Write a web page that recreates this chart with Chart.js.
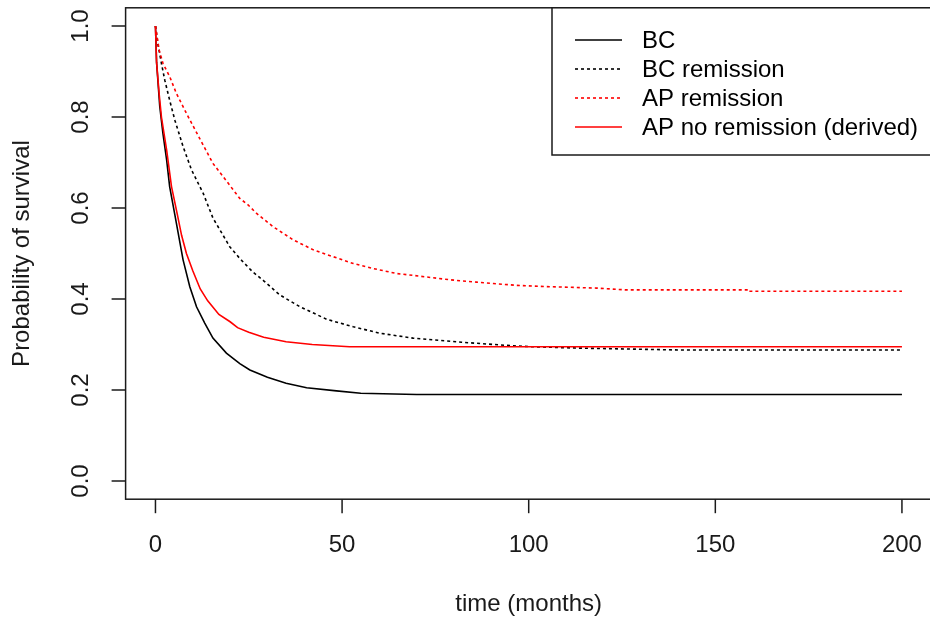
<!DOCTYPE html>
<html>
<head>
<meta charset="utf-8">
<script src="https://cdn.jsdelivr.net/npm/chart.js@4/dist/chart.umd.min.js"></script>
<style>
  html, body { margin: 0; padding: 0; background: #fff; overflow: hidden; }
  #wrap { position: relative; width: 940px; height: 623px; }
</style>
</head>
<body>
<div id="wrap"><canvas id="c" width="940" height="623"></canvas></div>
<script>
// Survival curves (time in months, probability of survival)
const bcTime = [0, 0.3, 1.15, 2, 3, 3.8, 5.2, 7.4, 9.2, 11, 13.2, 15.4, 19, 22.6, 25.3, 30, 35, 40.5, 48.5, 55, 70, 200];
const bcSurv = [1.0, 0.92, 0.823, 0.764, 0.705, 0.647, 0.585, 0.486, 0.427, 0.383, 0.347, 0.314, 0.281, 0.258, 0.244, 0.228, 0.215, 0.205, 0.198, 0.193, 0.19, 0.19];

const bcRemTime = [0, 0.7, 1.6, 2.5, 3.8, 5.2, 7.4, 9.65, 12.8, 15.4, 19.9, 22.6, 26, 29, 33.3, 38.7, 46, 53, 60, 69, 75, 82, 89, 96, 101, 114, 140, 200];
const bcRemSurv = [1.0, 0.958, 0.918, 0.881, 0.837, 0.793, 0.735, 0.684, 0.632, 0.578, 0.515, 0.489, 0.46, 0.44, 0.409, 0.383, 0.355, 0.339, 0.325, 0.314, 0.31, 0.305, 0.301, 0.297, 0.295, 0.292, 0.288, 0.288];

const apRemTime = [0, 1, 2, 3.8, 5.6, 8.3, 11.9, 15.4, 19.9, 22.6, 24.8, 27.1, 31.5, 36.9, 42.3, 47.6, 53, 58.3, 64.6, 71, 77, 81.6, 86, 90.5, 96.8, 105.7, 118.2, 126, 159, 159, 200];
const apRemSurv = [1.0, 0.947, 0.918, 0.889, 0.852, 0.808, 0.752, 0.698, 0.65, 0.621, 0.607, 0.588, 0.559, 0.53, 0.508, 0.493, 0.478, 0.467, 0.456, 0.45, 0.444, 0.44, 0.437, 0.434, 0.43, 0.427, 0.424, 0.42, 0.42, 0.417, 0.417];

const apNoRemTime = [0, 0.3, 1, 1.6, 3, 4.3, 5.8, 7, 8.3, 10, 12, 14, 17, 20, 22, 25, 29, 35, 42, 52, 200];
const apNoRemSurv = [1.0, 0.92, 0.85, 0.8, 0.727, 0.647, 0.588, 0.54, 0.5, 0.462, 0.422, 0.396, 0.366, 0.35, 0.337, 0.327, 0.316, 0.306, 0.3, 0.295, 0.295];

const seriesNames = ["BC", "BC remission", "AP remission", "AP no remission (derived)"];
const xTicks = [0, 50, 100, 150, 200];
const yTicks = [0.0, 0.2, 0.4, 0.6, 0.8, 1.0];
const xTitle = "time (months)";
const yTitle = "Probability of survival";

const FONT = "24px 'Liberation Sans', Arial, sans-serif";
const DOT = [3, 3];

function pts(t, s) { return t.map((x, i) => ({ x: x, y: s[i] })); }

const styles = [
  { color: "#000000", dash: [] },
  { color: "#000000", dash: DOT },
  { color: "#ff0000", dash: DOT },
  { color: "#ff0000", dash: [] }
];

const dataSets = [
  pts(bcTime, bcSurv),
  pts(bcRemTime, bcRemSurv),
  pts(apRemTime, apRemSurv),
  pts(apNoRemTime, apNoRemSurv)
];

// base-graphics style frame, ticks, labels and legend
const framePlugin = {
  id: "frame",
  afterDraw(chart) {
    const ctx = chart.ctx;
    const a = chart.chartArea;
    const xs = chart.scales.x, ys = chart.scales.y;
    ctx.save();
    ctx.strokeStyle = "#1a1a1a";
    ctx.lineWidth = 1.5;
    ctx.setLineDash([]);
    ctx.strokeRect(a.left, a.top, a.right - a.left, a.bottom - a.top);

    ctx.fillStyle = "#1a1a1a";
    ctx.font = FONT;
    // x axis ticks
    ctx.textAlign = "center";
    ctx.textBaseline = "middle";
    xTicks.forEach(v => {
      const px = xs.getPixelForValue(v);
      ctx.beginPath();
      ctx.moveTo(px, a.bottom);
      ctx.lineTo(px, a.bottom + 14);
      ctx.stroke();
      ctx.fillText(String(v), px, 545);
    });
    // y axis ticks (rotated labels)
    yTicks.forEach(v => {
      const py = ys.getPixelForValue(v);
      ctx.beginPath();
      ctx.moveTo(a.left, py);
      ctx.lineTo(a.left - 14, py);
      ctx.stroke();
      ctx.save();
      ctx.translate(81, py);
      ctx.rotate(-Math.PI / 2);
      ctx.fillText(v.toFixed(1), 0, 0);
      ctx.restore();
    });
    // axis titles
    ctx.fillText(xTitle, (a.left + a.right) / 2, 604);
    ctx.save();
    ctx.translate(22, (a.top + a.bottom) / 2);
    ctx.rotate(-Math.PI / 2);
    ctx.fillText(yTitle, 0, 0);
    ctx.restore();

    // legend
    const lx = 552, ly = a.top, lw = a.right - 552, lh = 155 - a.top;
    ctx.fillStyle = "#ffffff";
    ctx.fillRect(lx, ly, lw, lh);
    ctx.strokeStyle = "#1a1a1a";
    ctx.strokeRect(lx, ly, lw, lh);
    const rows = [40, 69, 98, 127];
    ctx.textAlign = "left";
    seriesNames.forEach((name, i) => {
      ctx.strokeStyle = styles[i].color;
      ctx.lineWidth = 1.6;
      ctx.setLineDash(styles[i].dash);
      ctx.beginPath();
      ctx.moveTo(575, rows[i]);
      ctx.lineTo(622, rows[i]);
      ctx.stroke();
      ctx.setLineDash([]);
      ctx.fillStyle = "#000000";
      ctx.fillText(name, 642, rows[i] + 1);
    });
    ctx.restore();
  }
};

new Chart(document.getElementById("c"), {
  type: "line",
  data: {
    datasets: dataSets.map((d, i) => ({
      label: seriesNames[i],
      data: d,
      borderColor: styles[i].color,
      borderDash: styles[i].dash,
      borderWidth: 1.6,
      pointRadius: 0,
      tension: 0,
      fill: false,
      order: 3 - i
    }))
  },
  options: {
    responsive: false,
    animation: false,
    events: [],
    layout: { padding: { left: 125.6, right: 8.2, top: 7.8, bottom: 123.8 } },
    plugins: { legend: { display: false }, tooltip: { enabled: false } },
    scales: {
      x: { type: "linear", min: -8, max: 208, display: false },
      y: { type: "linear", min: -0.04, max: 1.04, display: false }
    }
  },
  plugins: [framePlugin]
});
</script>
</body>
</html>
